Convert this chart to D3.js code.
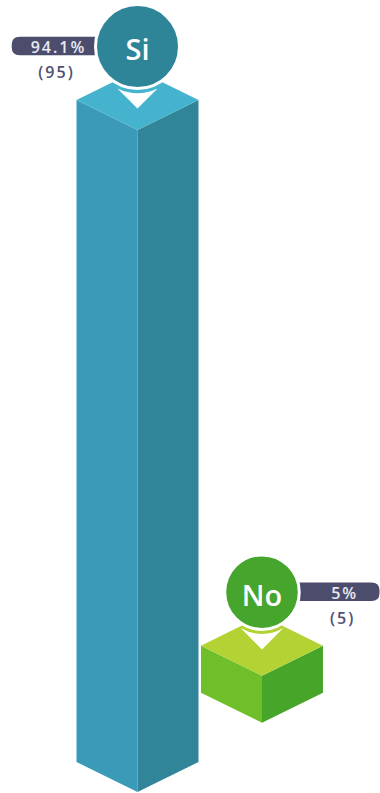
<!DOCTYPE html>
<html>
<head>
<meta charset="utf-8">
<script src="https://cdn.jsdelivr.net/npm/d3@7"></script>
<style>
  html, body { margin: 0; padding: 0; background: #ffffff; }
  svg { display: block; }
  text { font-family: "Open Sans", "Noto Sans", sans-serif; }
</style>
</head>
<body>
<div id="chart"></div>
<script>
// Answers and their shares
const categories = ["Si", "No"];
const percents = [94.1, 5];
const percentLabels = ["94.1%", "5%"];
const counts = [95, 5];

// Colours for each answer: badge, top, left and right faces of the block
const palette = {
  Si: { badge: "#2f8598", top: "#45b3cd", left: "#3a9ab8", right: "#318598" },
  No: { badge: "#45a52d", top: "#b3d335", left: "#6fbf2a", right: "#47a52a" }
};
const pillColor = "#4c4d6d";
const pillText = "#e9e9f2";
const countColor = "#4f5072";

const width = 380, height = 793;
const halfW = 61;          // half width of a block's front
const depth = 30;          // isometric drop of the top face
const groundSlope = 0.557; // blocks sit on an isometric floor receding to the right
const badgeGap = 53.5;     // badge centre above the top face centre

const svg = d3.select("#chart").append("svg")
  .attr("width", width).attr("height", height);

const x = d3.scalePoint().domain(categories).range([137.5, 262]);
const h = d3.scaleLinear().domain([0, 100]).range([12.5, 702.7]);
const r = d3.scaleLinear().domain([0, 100]).range([37, 42.3]);
const groundY = cx => 792 - (cx - x.range()[0]) * groundSlope;

const rows = categories.map((c, i) => ({
  cat: c, pct: percents[i], label: percentLabels[i], count: counts[i]
}));

const line = d3.line();

const g = svg.selectAll("g.item").data(rows).join("g").attr("class", "item");

g.each(function (d) {
  const sel = d3.select(this);
  const col = palette[d.cat];
  const cx = x(d.cat);
  const yb = groundY(cx);
  const yt = yb - h(d.pct);

  // block faces
  sel.append("path").attr("fill", col.left)
    .attr("d", line([[cx - halfW, yt - depth], [cx, yt], [cx, yb], [cx - halfW, yb - depth]]) + "Z");
  sel.append("path").attr("fill", col.right)
    .attr("d", line([[cx, yt], [cx + halfW, yt - depth], [cx + halfW, yb - depth], [cx, yb]]) + "Z");
  sel.append("path").attr("fill", col.top)
    .attr("d", line([[cx - halfW, yt - depth], [cx, yt - 2 * depth], [cx + halfW, yt - depth], [cx, yt]]) + "Z");

  // badge geometry
  const rad = r(d.pct);
  const cy = yt - depth - badgeGap;
  const onLeft = cx < width / 2;

  // value pill, tucked under the badge
  const pillH = 18.5, pillR = 8;
  const outer = onLeft ? 11.7 : 379.5;
  const inner = cx;
  const x0 = Math.min(outer, inner), x1 = Math.max(outer, inner);
  const py0 = cy - 0.5 - pillH / 2, py1 = cy - 0.5 + pillH / 2;
  let pd;
  if (onLeft) {
    pd = `M${x1},${py0} L${x0 + pillR},${py0} Q${x0},${py0} ${x0},${py0 + pillR} L${x0},${py1 - pillR} Q${x0},${py1} ${x0 + pillR},${py1} L${x1},${py1} Z`;
  } else {
    pd = `M${x0},${py0} L${x1 - pillR},${py0} Q${x1},${py0} ${x1},${py0 + pillR} L${x1},${py1 - pillR} Q${x1},${py1} ${x1 - pillR},${py1} L${x0},${py1} Z`;
  }
  sel.append("path").attr("d", pd).attr("fill", pillColor);

  // percentage inside the pill, count underneath
  const spacing = 2;
  const tx = (onLeft ? cx - 80 : cx + 81.7) + spacing / 2;
  sel.append("text")
    .attr("x", tx).attr("y", cy + 0.5)
    .attr("text-anchor", "middle").attr("dominant-baseline", "central")
    .attr("font-size", 16).attr("letter-spacing", spacing).attr("font-weight", 600)
    .attr("fill", pillText).text(d.label);
  sel.append("text")
    .attr("x", tx - 2).attr("y", cy + 25.5)
    .attr("text-anchor", "middle").attr("dominant-baseline", "central")
    .attr("font-size", 16).attr("letter-spacing", spacing).attr("font-weight", 600)
    .attr("fill", countColor).text(`(${d.count})`);

  // white collar under the badge: two slanted sides meeting at a point,
  // with a concave top following the badge outline
  const tipY = cy + rad + 20;
  const s = 1.0;
  const R = rad + 4.5;
  const dy = tipY - cy;
  const A = 1 + s * s, B = -2 * s * dy, C = dy * dy - R * R;
  const disc = Math.max(0, B * B - 4 * A * C);
  const t = (-B - Math.sqrt(disc)) / (2 * A);
  const lx = cx - t, rx = cx + t, ey = tipY - s * t;
  sel.append("path").attr("fill", "#ffffff")
    .attr("d", `M${lx},${ey} L${cx},${tipY} L${rx},${ey} A${R},${R} 0 0 1 ${lx},${ey} Z`);

  // badge
  sel.append("circle")
    .attr("cx", cx).attr("cy", cy).attr("r", rad)
    .attr("fill", col.badge).attr("stroke", "#ffffff").attr("stroke-width", 3);
  sel.append("text")
    .attr("x", cx).attr("y", cy + 2)
    .attr("text-anchor", "middle").attr("dominant-baseline", "central")
    .attr("font-size", 29).attr("font-weight", 600)
    .attr("fill", "#ffffff").text(d.cat);
});
</script>
</body>
</html>
